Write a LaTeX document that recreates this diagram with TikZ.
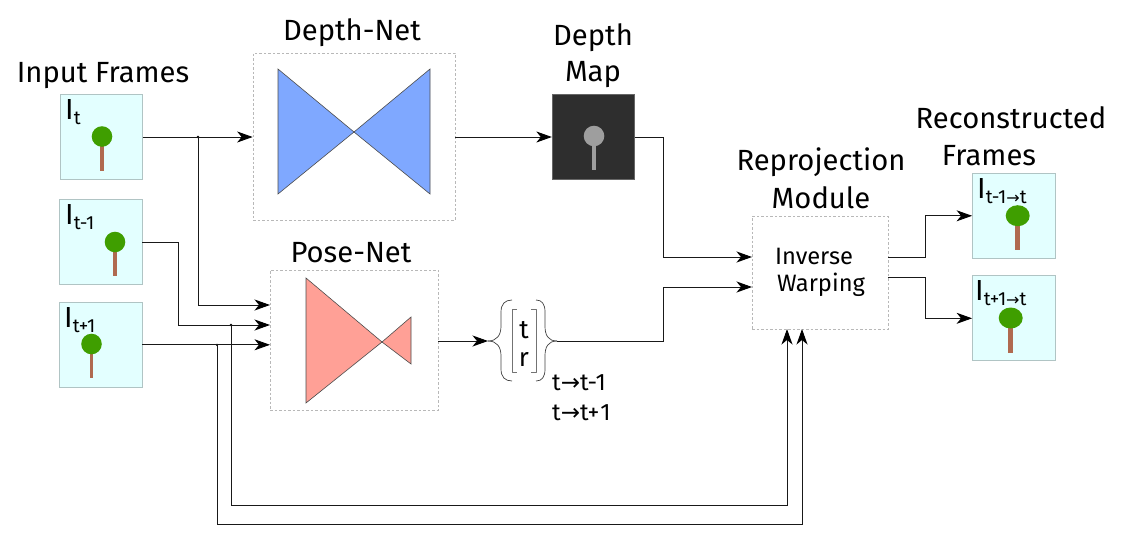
\documentclass[tikz,border=0pt]{standalone}
\usepackage{fontspec}
\setmainfont{Fira Sans}
\newfontfamily\arrfont{DejaVu Sans}
\usetikzlibrary{arrows.meta}
\definecolor{framefill}{HTML}{E3FFFF}
\definecolor{frameline}{HTML}{B0C4C4}
\definecolor{treegreen}{HTML}{3F9E00}
\definecolor{trunk}{HTML}{B06A50}
\definecolor{dashgrey}{HTML}{B8B8B8}
\definecolor{blueshape}{HTML}{7FA8FF}
\definecolor{redshape}{HTML}{FFA096}
\newcommand{\lowsub}[1]{\raisebox{-5pt}{\fontsize{19}{19}\selectfont #1}}
\newcommand{\arrowglyph}{{\arrfont\fontsize{16}{16}\selectfont →}}
\tikzset{
  x=1pt,y=-1pt,
  frame/.style={draw=frameline,fill=framefill,line width=.8pt,inner sep=0,minimum width=82.5pt,minimum height=85pt},
  netbox/.style={draw=dashgrey,dashed,dash pattern=on 2.5pt off 2pt,line width=.7pt,inner sep=0},
  title/.style={font=\fontsize{29.2}{29.2}\selectfont,inner sep=0,anchor=center},
  small/.style={font=\fontsize{23.7}{23.7}\selectfont,inner sep=0,anchor=center},
  framelabel/.style={font=\fontsize{29}{29}\selectfont,inner sep=0,anchor=base west},
  link/.style={line width=.9pt,black!90},
  arrowlink/.style={link,-{Stealth[length=15.5pt,width=11pt,inset=4.5pt,black]}},
  shapeline/.style={draw=black!70,line width=.6pt},
  brace/.style={draw=black!75,line width=.7pt,line join=round}
}
\begin{document}
\begin{tikzpicture}
\useasboundingbox (0,0) rectangle (1125,544);
% boxes
\node[netbox,minimum width=202pt,minimum height=167pt] (depthnet) at (354,136.5) {};
\node[netbox,minimum width=168pt,minimum height=140pt] (posenet) at (354,340) {};
\node[netbox,minimum width=136pt,minimum height=113pt] (warp) at (820,272.5) {};
\draw[shapeline,fill=blueshape] (278,69) -- (354,132) -- (430,69) -- (430,194) -- (354,132) -- (278,194) -- cycle;
\draw[shapeline,fill=redshape] (306,278) -- (382,342) -- (411,317) -- (411,364) -- (382,342) -- (306,403) -- cycle;
% frames
\node[frame] (it) at (101.25,137) {};
\node[frame] (itm) at (100.75,242.3) {};
\node[frame] (itp) at (100.75,344.8) {};
\node[frame,fill=black!82,draw=black!60] (dm) at (593.5,137) {};
\node[frame] (rm) at (1013.75,215.8) {};
\node[frame] (rp) at (1013.75,318.3) {};
% trees
\draw[line width=3.5pt,trunk] (102,140) -- (102,171);
\fill[treegreen] (102,136.5) circle (10.3pt);
\draw[line width=3.5pt,trunk] (115,246) -- (115,276);
\fill[treegreen] (115,242) circle (10.3pt);
\draw[line width=3.5pt,trunk] (91.5,348) -- (91.5,378);
\fill[treegreen] (91.5,344) circle (10.3pt);
\draw[line width=3.2pt,black!38] (594,140) -- (594,170);
\fill[black!38] (594,136) circle (10.3pt);
\draw[line width=5pt,trunk] (1017.7,220) -- (1017.7,249.5);
\fill[treegreen] (1017.7,215.7) ellipse [x radius=12pt,y radius=10.5pt];
\draw[line width=5.5pt,trunk] (1010.7,322) -- (1010.7,352.5);
\fill[treegreen] (1010.7,318) ellipse [x radius=12pt,y radius=10.5pt];
% frame labels
\node[framelabel] (lit) at (65,119) {I\lowsub{t}};
\node[framelabel] (litm) at (65,224) {I\lowsub{t-1}};
\node[framelabel] (litp) at (64,327) {I\lowsub{t+1}};
\node[framelabel] (lrm) at (977,198) {I\lowsub{t-1\arrowglyph t}};
\node[framelabel] (lrp) at (975,300) {I\lowsub{t+1\arrowglyph t}};
% titles
\node[title] (t1) at (103,75.5) {Input Frames};
\node[title] (t2) at (352,33) {Depth-Net};
\node[title] (t3) at (593,38) {Depth};
\node[title] (t4) at (593,75) {Map};
\node[title] (t5) at (351,253) {Pose-Net};
\node[title] (t6) at (821,162.5) {Reprojection};
\node[title] (t7) at (821,198) {Module};
\node[title] (t8) at (1011,118) {Reconstructed};
\node[title] (t9) at (989,156) {Frames};
\node[small] (w1) at (814,256) {Inverse};
\node[small] (w2) at (821,285) {Warping};
\node[small,font=\fontsize{26}{26}\selectfont] (vt) at (524,330) {t};
\node[small,font=\fontsize{26}{26}\selectfont] (vr) at (524,359) {r};
\node[small,anchor=west] (l1) at (552,383) {t{\arrfont\fontsize{23}{23}\selectfont →}t-1};
\node[small,anchor=west] (l2) at (552,413) {t{\arrfont\fontsize{23}{23}\selectfont →}t+\kern1pt 1};
% brackets and braces
\coordinate (bl) at (488,341);
\coordinate (br) at (557,341);
\draw[brace] (bl) .. controls (497,341) and (501,335) .. (501,326) -- (501,312) .. controls (501,304) and (505,300) .. (512,300);
\draw[brace] (bl) .. controls (497,341) and (501,347) .. (501,356) -- (501,369) .. controls (501,377) and (505,381) .. (512,381);
\draw[brace] (br) .. controls (548,341) and (545,335) .. (545,326) -- (545,312) .. controls (545,304) and (542,300) .. (536,300);
\draw[brace] (br) .. controls (548,341) and (545,347) .. (545,356) -- (545,369) .. controls (545,377) and (542,381) .. (536,381);
\draw[brace,line width=.5pt,black!55] (517,309) -- (512,309) -- (512,372) -- (517,372);
\draw[brace,line width=.5pt,black!55] (531,309) -- (536,309) -- (536,372) -- (531,372);
% junctions
\coordinate (ja) at (198,137);
\coordinate (jb) at (231,325);
\coordinate (jc) at (217,344.8);
\coordinate (pa) at (270,305);
\coordinate (pb) at (270,325);
\coordinate (pc) at (270,344.8);
\coordinate (uw) at (787,329);
\coordinate (uv) at (802,329);
\coordinate (wa) at (752,257);
\coordinate (wb) at (752,287);
\coordinate (oa) at (888,257);
\coordinate (ob) at (888,277);
\foreach \j in {ja,jb,jc}{\fill[black] (\j) circle (1.3pt);}
% connectors
\draw[arrowlink] (it.east) -- (it.east -| depthnet.west);
\draw[arrowlink] (ja) |- (pa);
\draw[arrowlink] (itm.east) -- (178,242.3) |- (pb);
\draw[arrowlink] (itp.east) -- (pc);
\draw[arrowlink] (jb) -- (231,505) -- (787,505) -- (uw);
\draw[arrowlink] (jc) -- (217,524) -- (802,524) -- (uv);
\draw[arrowlink] (dm.west -| depthnet.east) -- (dm.west);
\draw[arrowlink] (dm.east) -- (663,137) |- (wa);
\draw[arrowlink] (posenet.east |- bl) -- (bl);
\draw[arrowlink] (br) -- (663,341) |- (wb);
\draw[arrowlink] (oa) -- (925,257) |- (rm.west);
\draw[arrowlink] (ob) -- (925,277) |- (rp.west);
\end{tikzpicture}
\end{document}
